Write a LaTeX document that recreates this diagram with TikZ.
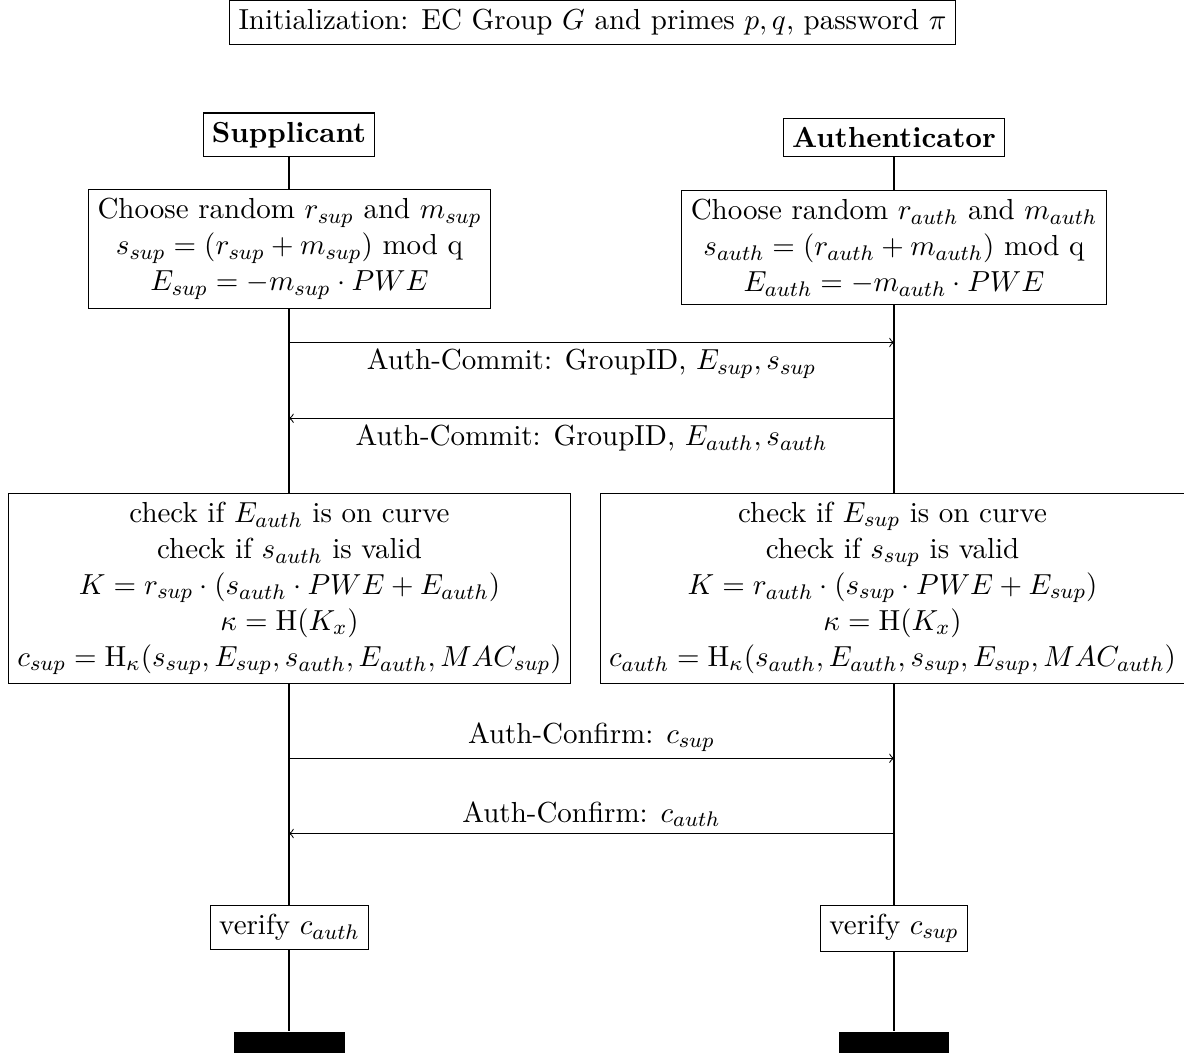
\documentclass[tikz,border=0pt]{standalone}
\begin{document}
\begin{tikzpicture}[x=0.37779pt,y=-0.37779pt,
  font=\fontsize{10.95}{13.6}\selectfont,
  box/.style={draw, fill=white, align=center},
  bar/.style={fill=black, draw=none, minimum width=41.8pt, minimum height=8pt, inner sep=0pt},
  lbl/.style={inner sep=2.3pt},
  msg/.style={->}]
\useasboundingbox (0,0) rectangle (1184,1053);
% header
\node[box] (init) at (592.5,22.5) {Initialization: EC Group $G$ and primes $p,q$, password $\pi$};
% actors
\node[box,anchor=south] (sup) at (289,157) {\bfseries Supplicant};
\node[box,anchor=south] (auth) at (894,157) {\bfseries Authenticator};
% choose
\node[box] (cs) at (289.5,249) {Choose random $r_{sup}$ and $m_{sup}$\\ $s_{sup}=(r_{sup}+m_{sup})$ mod q\\ $E_{sup}=-m_{sup}\cdot PWE$};
\node[box] (ca) at (894,247.5) {Choose random $r_{auth}$ and $m_{auth}$\\ $s_{auth}=(r_{auth}+m_{auth})$ mod q\\ $E_{auth}=-m_{auth}\cdot PWE$};
% checks
\node[box] (ks) at (289.5,588.5) {check if $E_{auth}$ is on curve\\ check if $s_{auth}$ is valid\\ $K=r_{sup}\cdot(s_{auth}\cdot PWE+E_{auth})$\\ $\kappa=\mathrm{H}(K_x)$\\ $c_{sup}=\mathrm{H}_{\kappa}(s_{sup},E_{sup},s_{auth},E_{auth},MAC_{sup})$};
\node[box] (ka) at (892.5,588.5) {check if $E_{sup}$ is on curve\\ check if $s_{sup}$ is valid\\ $K=r_{auth}\cdot(s_{sup}\cdot PWE+E_{sup})$\\ $\kappa=\mathrm{H}(K_x)$\\ $c_{auth}=\mathrm{H}_{\kappa}(s_{auth},E_{auth},s_{sup},E_{sup},MAC_{auth})$};
% verify
\node[box] (vs) at (289.5,927.5) {verify $c_{auth}$};
\node[box] (va) at (894,928.5) {verify $c_{sup}$};
% end bars
\node[bar] (es) at (289.5,1042.5) {};
\node[bar] (ea) at (894,1042.5) {};
% lifelines
\draw (sup.south) -- (sup.south |- cs.north);
\draw (sup.south |- cs.south) -- (sup.south |- ks.north);
\draw (sup.south |- ks.south) -- (sup.south |- vs.north);
\draw (sup.south |- vs.south) -- (sup.south |- es.north);
\draw (auth.south) -- (auth.south |- ca.north);
\draw (auth.south |- ca.south) -- (auth.south |- ka.north);
\draw (auth.south |- ka.south) -- (auth.south |- va.north);
\draw (auth.south |- va.south) -- (auth.south |- ea.north);
% message end points
\coordinate (m1s) at (289,342.5);  \coordinate (m1a) at (894,342.5);
\coordinate (m2s) at (289,418.3);  \coordinate (m2a) at (894,418.3);
\coordinate (m3s) at (289,758.3);  \coordinate (m3a) at (894,758.3);
\coordinate (m4s) at (289,833.5);  \coordinate (m4a) at (894,833.5);
\draw[msg] (m1s) -- node[lbl,below] (l1) {Auth-Commit: GroupID, $E_{sup},s_{sup}$} (m1a);
\draw[msg] (m2a) -- node[lbl,below] (l2) {Auth-Commit: GroupID, $E_{auth},s_{auth}$} (m2s);
\draw[msg] (m3s) -- node[lbl,above] (l3) {Auth-Confirm: $c_{sup}$} (m3a);
\draw[msg] (m4a) -- node[lbl,above] (l4) {Auth-Confirm: $c_{auth}$} (m4s);
\end{tikzpicture}
\end{document}
